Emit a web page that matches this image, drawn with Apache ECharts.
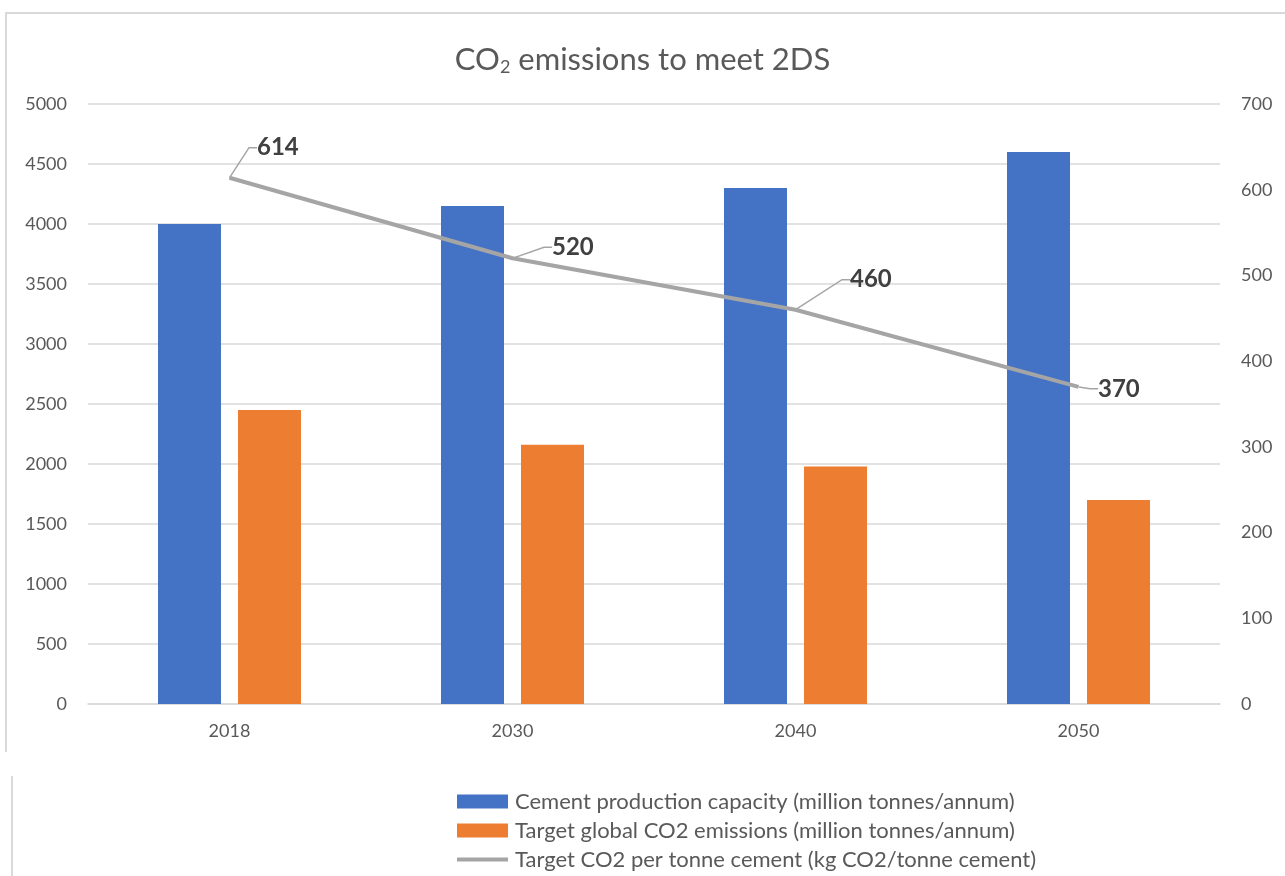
<!DOCTYPE html>
<html>
<head>
<meta charset="utf-8">
<title>CO2 emissions to meet 2DS</title>
<script src="https://cdn.jsdelivr.net/npm/echarts@6/dist/echarts.min.js"></script>
<style>
  html, body { margin: 0; padding: 0; background: #ffffff; }
  #chart { width: 1285px; height: 876px; }
</style>
</head>
<body>
<div id="chart"></div>
<script>
// Categories and series values
var years = ['2018', '2030', '2040', '2050'];
var cementCapacity = [4000, 4150, 4300, 4600];     // million tonnes/annum
var targetEmissions = [2450, 2160, 1980, 1700];    // million tonnes/annum
var co2PerTonne = [614, 520, 460, 370];            // kg CO2/tonne cement

// Axis ranges
var leftAxis = { min: 0, max: 5000, interval: 500 };
var rightAxis = { min: 0, max: 700, interval: 100 };

var seriesNames = [
  'Cement production capacity (million tonnes/annum)',
  'Target global CO2 emissions (million tonnes/annum)',
  'Target CO2 per tonne cement (kg CO2/tonne cement)'
];

// Offsets of the value labels from their points
var labelShift = [
  { dx: 22, dy: -30 },
  { dx: 34, dy: -11 },
  { dx: 49, dy: -30 },
  { dx: 14, dy: 2 }
];

var FONT = 'Lato, "Open Sans", sans-serif';
var TEXT = '#595959';
var GRID = '#d9d9d9';

// Legend icon for the line series: a plain 4px stroke across the icon box
var lineIcon = 'path://M0,0L0,0ZM0,5L51,5L51,9L0,9ZM51,14L51,14Z';

var chart = echarts.init(document.getElementById('chart'), null, { renderer: 'canvas' });

chart.setOption({
  backgroundColor: '#ffffff',
  animation: false,
  textStyle: { fontFamily: FONT },
  title: {
    text: '{a|CO}{s|2}{a| emissions to meet 2DS}',
    left: 'center',
    top: 38,
    textStyle: {
      rich: {
        a: { fontFamily: FONT, fontSize: 31, fontWeight: 'normal', color: TEXT, lineHeight: 34 },
        s: { fontFamily: FONT, fontSize: 18, fontWeight: 'normal', color: TEXT, lineHeight: 34, padding: [14, 0, 0, 0] }
      }
    }
  },
  grid: { left: 88, right: 65, top: 104, bottom: 172, containLabel: false },
  legend: {
    orient: 'vertical',
    left: 452,
    top: 785,
    itemWidth: 51,
    itemHeight: 14,
    itemGap: 6,
    data: [
      { name: seriesNames[0], icon: 'rect' },
      { name: seriesNames[1], icon: 'rect' },
      { name: seriesNames[2], icon: lineIcon }
    ],
    textStyle: { fontFamily: FONT, fontSize: 22, color: TEXT, lineHeight: 23, padding: [0, 0, 0, 2] }
  },
  xAxis: {
    type: 'category',
    data: years,
    axisLine: { show: true, lineStyle: { color: GRID, width: 1.5 } },
    axisTick: { show: false },
    axisLabel: { color: TEXT, fontSize: 18, fontFamily: FONT, margin: 18 }
  },
  yAxis: [
    {
      type: 'value',
      min: leftAxis.min,
      max: leftAxis.max,
      interval: leftAxis.interval,
      axisLine: { show: false },
      axisTick: { show: false },
      axisLabel: {
        color: TEXT, fontSize: 18, fontFamily: FONT, margin: 21,
        formatter: function (v) { return String(v); }
      },
      splitLine: { show: true, lineStyle: { color: GRID, width: 1.5 } }
    },
    {
      type: 'value',
      min: rightAxis.min,
      max: rightAxis.max,
      interval: rightAxis.interval,
      position: 'right',
      axisLine: { show: false },
      axisTick: { show: false },
      axisLabel: {
        color: TEXT, fontSize: 18, fontFamily: FONT, margin: 21,
        formatter: function (v) { return String(v); }
      },
      splitLine: { show: false }
    }
  ],
  series: [
    {
      name: seriesNames[0],
      type: 'bar',
      data: cementCapacity,
      barWidth: 63,
      barGap: '27%',
      itemStyle: { color: '#4472C4' }
    },
    {
      name: seriesNames[1],
      type: 'bar',
      data: targetEmissions,
      barWidth: 63,
      barGap: '27%',
      itemStyle: { color: '#ED7D31' }
    },
    {
      name: seriesNames[2],
      type: 'line',
      yAxisIndex: 1,
      data: co2PerTonne,
      symbol: 'circle',
      symbolSize: 1,
      lineStyle: { color: '#A5A5A5', width: 4 },
      itemStyle: { color: '#A5A5A5' },
      label: {
        show: true,
        position: 'right',
        distance: 5,
        fontFamily: FONT,
        fontSize: 24,
        fontWeight: 'bold',
        color: '#404040'
      },
      labelLine: {
        show: true,
        length2: 8,
        lineStyle: { color: '#A5A5A5', width: 1.5 }
      },
      labelLayout: function (params) {
        var s = labelShift[params.dataIndex];
        return { dx: s.dx, dy: s.dy };
      },
      z: 5
    }
  ],
  graphic: [
    { type: 'line', shape: { x1: 5, y1: 13, x2: 1285, y2: 13 }, style: { stroke: GRID, lineWidth: 2 }, silent: true },
    { type: 'line', shape: { x1: 6, y1: 13, x2: 6, y2: 752 }, style: { stroke: GRID, lineWidth: 2 }, silent: true },
    { type: 'line', shape: { x1: 12, y1: 776, x2: 12, y2: 876 }, style: { stroke: GRID, lineWidth: 2 }, silent: true }
  ]
});
</script>
</body>
</html>
